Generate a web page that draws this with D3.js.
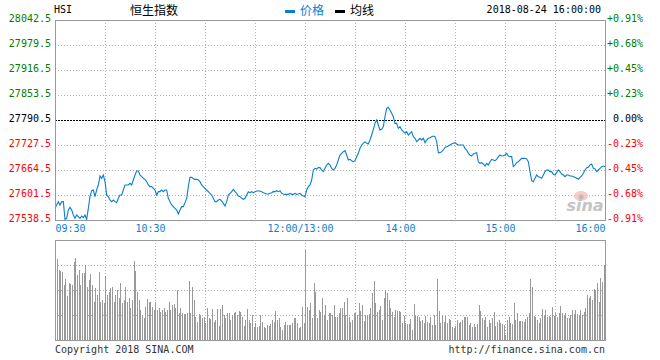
<!DOCTYPE html>
<html>
<head>
<meta charset="utf-8">
<script src="https://cdn.jsdelivr.net/npm/d3@7"></script>
<style>
html,body{margin:0;padding:0;background:#fff;}
svg{display:block;}
.mono{font-family:"DejaVu Sans Mono",monospace;font-size:10px;}
.cjk{font-family:"Noto Sans CJK SC",sans-serif;font-size:12px;}
</style>
</head>
<body>
<svg id="chart" width="660" height="360"></svg>
<script>
// ---------- data ----------
const symbol = "HSI";
const title = "恒生指数";
const stamp = "2018-08-24 16:00:00";
const legendNames = ["价格", "均线"];
const prevClose = 27790.5;
const priceTicks = [27538.5, 27601.5, 27664.5, 27727.5, 27790.5, 27853.5, 27916.5, 27979.5, 28042.5];
const timeTickMinutes = [0, 60, 150, 210, 270, 330];
const timeLabels = ["09:30", "10:30", "12:00/13:00", "14:00", "15:00", "16:00"];
const gridMinutes = [30, 60, 90, 120, 150, 180, 210, 240, 270, 300];
const volumeGrid = [25, 50, 75];
const footerLeft = "Copyright 2018 SINA.COM";
const footerRight = "http://finance.sina.com.cn";

// one price per minute, 09:30 .. 16:00 (lunch break removed)
const prices = [
27567.9,27576.3,27584.7,27576.3,27584.7,27584.7,27540.2,27542.7,27563.7,27570.4,
27563.7,27551.1,27542.7,27551.1,27546.9,27542.7,27548.6,27544.4,27551.1,27540.2,
27567.9,27597.3,27612.4,27614.1,27597.3,27614.1,27626.7,27649.4,27643.5,27651.9,
27635.1,27601.5,27597.3,27588.9,27584.7,27588.9,27584.7,27582.2,27593.1,27601.5,
27601.5,27614.1,27626.7,27626.7,27626.7,27630.9,27626.7,27639.3,27651.9,27662.0,
27662.0,27651.9,27647.7,27643.5,27641.0,27635.1,27626.7,27622.5,27622.5,27618.3,
27614.1,27601.5,27609.9,27609.9,27614.1,27609.9,27614.1,27614.1,27593.1,27584.7,
27576.3,27572.1,27567.9,27563.7,27553.6,27563.7,27572.1,27572.1,27582.2,27593.1,
27622.5,27646.0,27646.0,27642.7,27641.0,27641.0,27639.3,27635.1,27626.7,27622.5,
27618.3,27614.1,27609.9,27605.7,27601.5,27593.1,27584.7,27584.7,27588.9,27590.6,
27586.4,27580.5,27573.8,27584.7,27601.5,27605.7,27609.9,27615.8,27609.9,27605.7,
27599.0,27597.3,27593.1,27590.6,27593.1,27601.5,27609.9,27607.4,27609.9,27607.4,
27609.9,27611.6,27611.6,27611.6,27609.9,27607.4,27605.7,27604.0,27604.0,27605.7,
27607.4,27609.9,27609.9,27612.4,27609.9,27612.4,27605.7,27604.0,27603.2,27603.2,
27603.2,27605.7,27603.2,27603.2,27605.7,27603.2,27604.0,27605.7,27601.5,27599.0,
27597.3,27614.1,27622.5,27626.7,27639.3,27664.5,27668.7,27667.0,27670.4,27670.4,
27664.5,27660.3,27668.7,27677.1,27681.3,27677.1,27668.7,27664.5,27668.7,27677.1,
27689.7,27702.3,27706.5,27710.7,27713.2,27702.3,27689.7,27691.4,27688.0,27685.5,
27688.0,27698.1,27706.5,27719.1,27727.5,27731.7,27735.9,27731.7,27730.0,27740.1,
27752.7,27767.0,27782.1,27790.5,27777.9,27765.3,27767.0,27773.7,27798.9,27819.9,
27822.4,27815.7,27807.3,27798.9,27782.1,27782.1,27769.5,27773.7,27765.3,27761.1,
27756.9,27761.1,27752.7,27756.9,27761.1,27748.5,27744.3,27735.9,27740.1,27744.3,
27740.1,27744.3,27733.4,27740.1,27744.3,27746.0,27748.5,27750.2,27748.5,27735.9,
27708.2,27708.2,27710.7,27714.9,27721.6,27723.3,27725.0,27727.5,27730.0,27731.7,
27733.4,27730.0,27727.5,27727.5,27727.5,27727.5,27719.1,27714.9,27706.5,27702.3,
27699.8,27704.8,27706.5,27708.2,27685.5,27681.3,27683.0,27679.6,27674.6,27681.3,
27677.1,27685.5,27691.4,27689.7,27688.0,27691.4,27698.1,27702.3,27699.8,27700.6,
27702.3,27706.5,27699.8,27698.1,27698.1,27672.9,27677.1,27683.0,27685.5,27689.7,
27693.9,27693.9,27693.9,27692.2,27685.5,27660.3,27637.6,27635.1,27643.5,27651.9,
27647.7,27646.0,27643.5,27651.9,27660.3,27664.5,27664.5,27660.3,27660.3,27653.6,
27651.9,27657.8,27664.5,27660.3,27654.4,27651.9,27647.7,27651.9,27651.9,27649.4,
27649.4,27647.7,27646.0,27643.5,27641.0,27646.0,27649.4,27656.1,27664.5,27670.4,
27671.2,27677.1,27679.6,27668.7,27667.0,27660.3,27664.5,27668.7,27672.9,27674.6,
27672.9
];

// one volume bar per minute (relative units, max scale 100)
const volumes = [
70,
81,70,69,68,55,61,44,57,56,55,
78,82,65,70,55,67,67,75,53,60,
66,55,38,52,45,68,38,40,37,64,
45,48,52,53,38,45,50,42,57,37,
40,53,38,42,32,40,79,69,48,40,
30,25,22,33,41,38,38,33,30,38,
30,32,28,30,32,28,30,38,30,35,
36,32,50,27,32,27,26,26,27,59,
27,53,40,23,18,26,25,22,23,17,
32,22,21,31,18,20,31,14,31,35,
25,22,27,27,20,25,27,28,25,29,
28,23,14,20,31,20,17,25,13,17,
13,14,25,18,13,12,15,14,16,20,
18,29,20,22,13,10,15,18,15,15,
15,17,22,22,17,12,13,33,17,90,
33,30,37,22,57,48,22,30,28,42,
25,35,20,27,27,25,35,23,23,27,
32,32,38,25,42,23,18,20,27,27,
25,37,29,35,19,25,25,26,32,47,
59,37,28,30,34,20,42,50,47,40,
32,28,23,30,29,29,28,17,24,17,
16,16,21,10,36,24,24,23,19,20,
17,24,18,17,23,15,25,15,61,29,
17,25,18,24,17,21,20,13,12,14,
20,17,18,20,23,23,23,15,17,13,
16,13,16,35,29,22,20,23,13,20,
17,22,28,14,18,20,17,16,15,5,
20,23,17,16,37,20,27,19,19,19,
18,21,23,27,61,53,24,23,20,17,
22,31,24,30,23,24,23,33,24,27,
23,27,34,27,25,27,22,22,25,30,
26,30,26,25,30,25,28,32,45,42,
44,40,51,50,57,38,62,58,75
];

// ---------- drawing ----------
const svg = d3.select("#chart");
const L = 55, R = 605, T = 20, B = 220, VT = 240, VB = 340;
const totalMin = 330;

const x = d3.scaleLinear().domain([0, totalMin]).range([L, R]);
const y = d3.scaleLinear().domain([priceTicks[0], priceTicks[priceTicks.length - 1]]).range([B, T]);
const yv = d3.scaleLinear().domain([0, 100]).range([VB, VT]);

const GREEN = "#008000", RED = "#ff0000", BLUE = "#0a7fcf", GRID = "#b0b0b0", BORDER = "#999999";

const colorFor = v => Math.abs(v - prevClose) < 1e-6 ? "#000" : (v > prevClose ? GREEN : RED);

// header
svg.append("text").attr("class", "mono").attr("x", 54).attr("y", 13).attr("font-size", "11px").text(symbol);
svg.append("text").attr("class", "cjk").attr("x", 130).attr("y", 15).attr("fill", "#000").text(title);
svg.append("rect").attr("x", 285).attr("y", 10).attr("width", 10).attr("height", 3).attr("fill", BLUE);
svg.append("text").attr("class", "cjk").attr("x", 300).attr("y", 15).attr("fill", BLUE).text(legendNames[0]);
svg.append("rect").attr("x", 335).attr("y", 10).attr("width", 10).attr("height", 3).attr("fill", "#000");
svg.append("text").attr("class", "cjk").attr("x", 350).attr("y", 15).attr("fill", "#000").text(legendNames[1]);
svg.append("text").attr("class", "mono").attr("x", 601).attr("y", 13).attr("text-anchor", "end").text(stamp);

// price grid
const g = svg.append("g");
g.selectAll("line.h").data(priceTicks.filter(v => v !== prevClose && v !== priceTicks[0] && v !== priceTicks[priceTicks.length - 1]))
  .join("line").attr("x1", L).attr("x2", R).attr("y1", d => Math.round(y(d)) + 0.5).attr("y2", d => Math.round(y(d)) + 0.5)
  .attr("stroke", GRID).attr("stroke-dasharray", "1,2");
g.selectAll("line.v").data(gridMinutes).join("line")
  .attr("x1", d => Math.round(x(d)) + 0.5).attr("x2", d => Math.round(x(d)) + 0.5).attr("y1", T).attr("y2", B)
  .attr("stroke", GRID).attr("stroke-dasharray", "1,2");
g.append("line").attr("x1", L).attr("x2", R).attr("y1", Math.round(y(prevClose)) + 0.5).attr("y2", Math.round(y(prevClose)) + 0.5)
  .attr("stroke", "#000").attr("stroke-dasharray", "2,1");

// watermark
svg.append("ellipse").attr("cx", 581).attr("cy", 196).attr("rx", 7).attr("ry", 5).attr("fill", "#f6c2c2").attr("opacity", 0.85);
svg.append("circle").attr("cx", 581).attr("cy", 197).attr("r", 2.5).attr("fill", "#bbbbbb");
svg.append("text").attr("x", 585).attr("y", 211).attr("text-anchor", "middle")
  .attr("font-family", "DejaVu Sans, sans-serif").attr("font-size", "16px").attr("font-weight", "bold").attr("font-style", "italic")
  .attr("fill", "#c4c4c4").text("sina");

// price line
const line = d3.line().x((d, i) => x(i)).y(d => y(d));
svg.append("path").datum(prices).attr("d", line).attr("fill", "none").attr("stroke", BLUE).attr("stroke-width", 1.1);

// borders
svg.append("rect").attr("x", L + 0.5).attr("y", T + 0.5).attr("width", R - L).attr("height", B - T)
  .attr("fill", "none").attr("stroke", BORDER);

// left axis
const la = svg.append("g").attr("transform", `translate(${L},0)`)
  .call(d3.axisLeft(y).tickValues(priceTicks).tickFormat(d3.format(".1f")).tickSize(0).tickPadding(4));
la.select(".domain").remove();
la.selectAll("text").attr("class", "mono").attr("font-size", null).attr("font-family", null)
  .attr("dy", "0.1em").attr("fill", d => colorFor(d));

// right axis
const pctFmt = d => {
  const p = (d - prevClose) / prevClose * 100;
  if (Math.abs(p) < 1e-9) return "0.00%";
  return (p > 0 ? "+" : "-") + Math.abs(p).toFixed(2) + "%";
};
const ra = svg.append("g").attr("transform", `translate(${R},0)`)
  .call(d3.axisRight(y).tickValues(priceTicks).tickFormat(pctFmt).tickSize(0).tickPadding(2));
ra.select(".domain").remove();
ra.selectAll("text").attr("class", "mono").attr("font-size", null).attr("font-family", null)
  .attr("dy", "0.1em").attr("fill", d => colorFor(d))
  .attr("dx", d => d === prevClose ? "0.6em" : 0);

// time axis
const ta = svg.append("g").attr("transform", `translate(0,${B})`)
  .call(d3.axisBottom(x).tickValues(timeTickMinutes).tickFormat((d, i) => timeLabels[i]).tickSize(0).tickPadding(3));
ta.select(".domain").remove();
ta.selectAll("text").attr("class", "mono").attr("font-size", null).attr("font-family", null)
  .attr("fill", BLUE).attr("dy", "0.85em")
  .attr("text-anchor", (d, i) => i === 0 ? "start" : (i === timeTickMinutes.length - 1 ? "end" : "middle"))
  .attr("dx", (d, i) => (i === 0 || i === timeTickMinutes.length - 1) ? 0 : -5);

// volume grid
svg.selectAll("line.vh").data(volumeGrid).join("line")
  .attr("x1", L).attr("x2", R).attr("y1", d => Math.round(yv(d)) + 0.5).attr("y2", d => Math.round(yv(d)) + 0.5)
  .attr("stroke", GRID).attr("stroke-dasharray", "1,2");
svg.selectAll("line.vv").data(gridMinutes).join("line")
  .attr("x1", d => Math.round(x(d)) + 0.5).attr("x2", d => Math.round(x(d)) + 0.5).attr("y1", VT).attr("y2", VB)
  .attr("stroke", GRID).attr("stroke-dasharray", "1,2");

// volume bars
svg.append("g").selectAll("rect").data(volumes).join("rect")
  .attr("x", (d, i) => Math.floor(x(i + 0.5)))
  .attr("y", d => Math.round(yv(d)))
  .attr("width", 1)
  .attr("height", d => VB - Math.round(yv(d)))
  .attr("fill", "#999").attr("shape-rendering", "crispEdges");

svg.append("rect").attr("x", L + 0.5).attr("y", VT + 0.5).attr("width", R - L).attr("height", VB - VT)
  .attr("fill", "none").attr("stroke", BORDER);

// footer
svg.append("text").attr("class", "mono").attr("x", 55).attr("y", 353).attr("fill", "#333").text(footerLeft);
svg.append("text").attr("class", "mono").attr("x", 605).attr("y", 353).attr("text-anchor", "end").attr("fill", "#333").text(footerRight);
</script>
</body>
</html>
